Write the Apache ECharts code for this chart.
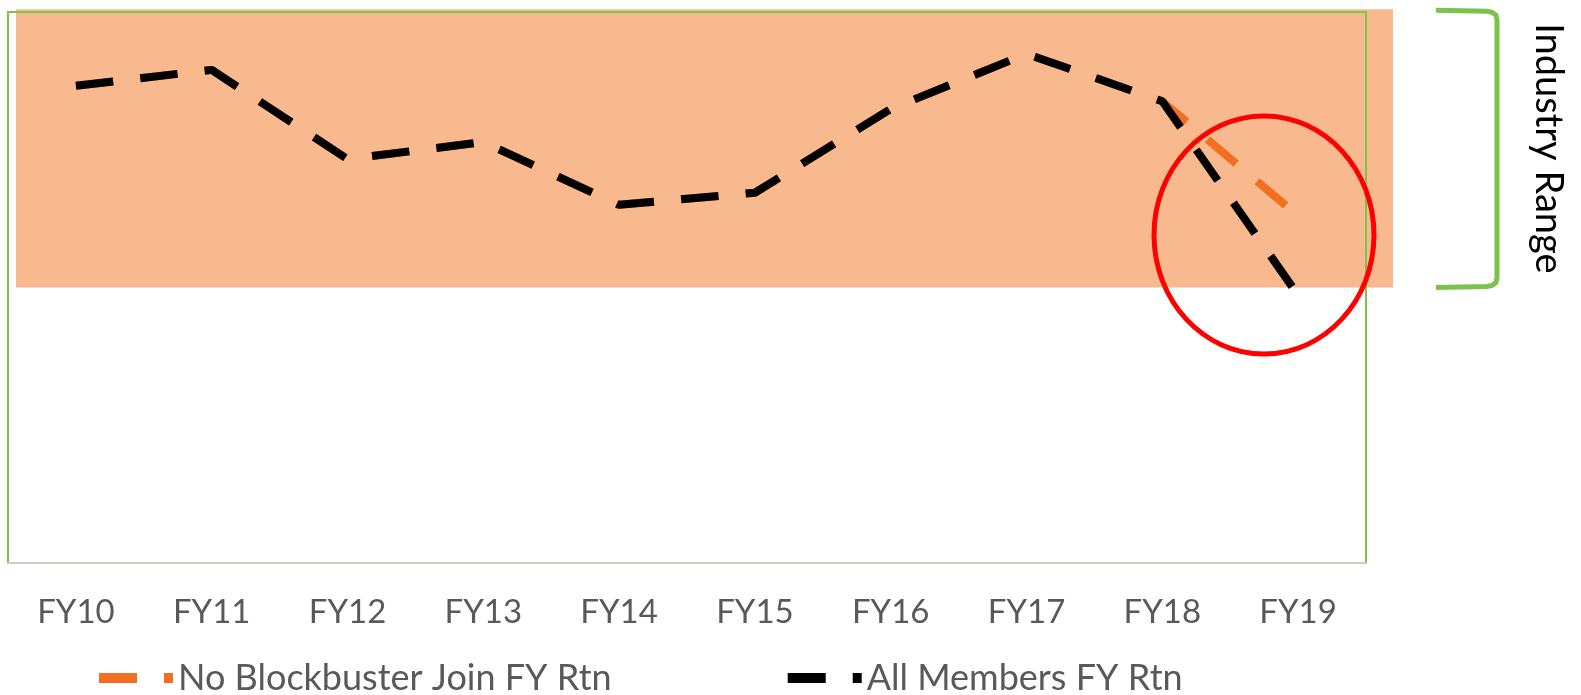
<!DOCTYPE html>
<html>
<head>
<meta charset="utf-8">
<script src="https://cdn.jsdelivr.net/npm/echarts@6/dist/echarts.min.js"></script>
<style>
  html, body { margin: 0; padding: 0; background: #fff; }
  #chart { width: 1581px; height: 695px; }
</style>
</head>
<body>
<div id="chart"></div>
<script>
// data (no y-axis labels, arbitrary return scale)
const categories = ['FY10', 'FY11', 'FY12', 'FY13', 'FY14', 'FY15', 'FY16', 'FY17', 'FY18', 'FY19'];
const noBlockbuster = [8.66, 8.95, 7.33, 7.64, 6.50, 6.72, 8.24, 9.24, 8.38, 6.30];
const allMembers = [8.66, 8.95, 7.33, 7.64, 6.50, 6.72, 8.24, 9.24, 8.38, 4.86];
const industryRange = [5.0, 10.05];
const seriesNames = ['No Blockbuster Join FY Rtn', 'All Members FY Rtn'];

const FONT = 'Lato';
const GREEN = '#7dc24b';
const DASH = [37.5, 27.3];
const chart = echarts.init(document.getElementById('chart'), null, { renderer: 'canvas' });

// excel style dashed legend key: long dash + small square
const dashIcon = 'path://M0,0 H38 V10 H0 Z M65,0 H74 V10 H65 Z';

const option = {
  animation: false,
  backgroundColor: '#ffffff',
  grid: {
    left: 8, right: 215, top: 12, bottom: 132,
    show: true, borderColor: GREEN, borderWidth: 2,
    backgroundColor: 'transparent',
    outerBoundsMode: 'none'
  },
  xAxis: {
    type: 'category',
    data: categories,
    boundaryGap: true,
    axisLine: { show: true, lineStyle: { color: '#c8d2bf', width: 2 } },
    axisTick: { show: false },
    axisLabel: { color: '#595959', fontFamily: FONT, fontSize: 33, margin: 33 },
    splitLine: { show: false }
  },
  yAxis: {
    type: 'value', min: 0, max: 10, show: false,
    splitLine: { show: false }
  },
  legend: {
    data: seriesNames,
    left: 99, top: 660, padding: 0,
    itemWidth: 74, itemHeight: 10, itemGap: 176,
    icon: dashIcon,
    itemStyle: { borderWidth: 0 },
    textStyle: { color: '#595959', fontFamily: FONT, fontSize: 36 }
  },
  series: [
    {
      name: seriesNames[0], type: 'line', data: noBlockbuster,
      color: '#f26f21', symbol: 'none', z: 3,
      lineStyle: { color: '#f26f21', width: 8, type: DASH, cap: 'butt', join: 'bevel' }
    },
    {
      name: seriesNames[1], type: 'line', data: allMembers,
      color: '#000000', symbol: 'none', z: 4,
      lineStyle: { color: '#000000', width: 8, type: DASH, cap: 'butt', join: 'bevel' }
    }
  ]
};
chart.setOption(option);

// annotations: industry band, bracket, label and highlight circle
const yHigh = chart.convertToPixel({ yAxisIndex: 0 }, industryRange[1]);
const yLow = chart.convertToPixel({ yAxisIndex: 0 }, industryRange[0]);

chart.setOption({
  graphic: [
    {
      type: 'rect', z: -10, silent: true,
      shape: { x: 16, y: yHigh, width: 1377, height: yLow - yHigh },
      style: { fill: '#f9b98f' }
    },
    {
      type: 'polyline', z: 100, silent: true,
      shape: {
        points: [
          [1436, yHigh + 1], [1487, yHigh + 2], [1492, yHigh + 3], [1496, yHigh + 6], [1497, yHigh + 11],
          [1497, yLow - 10], [1496, yLow - 5], [1492, yLow - 2], [1487, yLow - 1], [1436, yLow]
        ]
      },
      style: { fill: 'none', stroke: GREEN, lineWidth: 5 }
    },
    {
      type: 'text', z: 100, silent: true,
      x: 1548, y: (yHigh + yLow) / 2, rotation: -Math.PI / 2,
      style: {
        text: 'Industry Range', fontFamily: FONT, fontSize: 38, fill: '#000000',
        align: 'center', verticalAlign: 'middle'
      }
    },
    {
      type: 'ellipse', z: 100, silent: true,
      shape: { cx: 1264, cy: 235, rx: 110, ry: 119 },
      style: { fill: 'none', stroke: '#ff0000', lineWidth: 5 }
    }
  ]
});
</script>
</body>
</html>
